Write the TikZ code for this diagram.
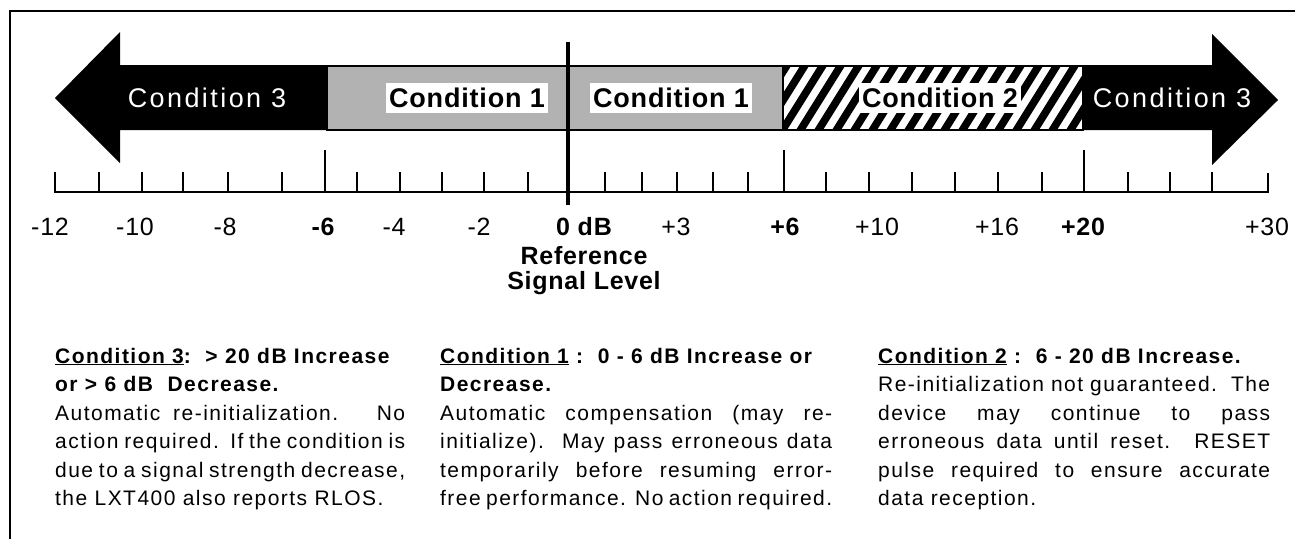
\documentclass[tikz,border=0pt]{standalone}
\usepackage{fontspec}
\setmainfont{Liberation Sans}
\begin{document}
\begin{tikzpicture}[x=1pt,y=-1pt,
  frame/.style={line width=2.5pt},
  bigarrow/.style={fill=black},
  stip/.style={fill=black!30},
  barlbl/.style={font=\fontsize{27}{30}\selectfont\bfseries\addfontfeature{LetterSpace=3}, fill=white, inner xsep=3pt, inner ysep=5pt},
  arrlbl/.style={font=\fontsize{27}{30}\selectfont\addfontfeature{LetterSpace=9}, text=white, inner sep=0pt},
  tick/.style={line width=2pt},
  ruler/.style={line width=2.5pt},
  num/.style={font=\fontsize{25}{28}\selectfont\addfontfeature{LetterSpace=3}, anchor=base, inner sep=0pt},
  bnum/.style={num, font=\fontsize{25}{28}\selectfont\bfseries\addfontfeature{LetterSpace=3}},
  blk/.style={anchor=base west, inner sep=0pt, font=\fontsize{21}{28.5}\selectfont\addfontfeature{LetterSpace=7}},
]
\useasboundingbox (0,0) rectangle (1295,539);
% frame
\draw[frame] (10,539) -- (10,11) -- (1295,11);

% left big arrow (Condition 3)
\fill[bigarrow] (55,98) -- (120,32) -- (120,65) -- (327,65) -- (327,130) -- (120,130) -- (120,163) -- cycle;
% right big arrow (Condition 3)
\fill[bigarrow] (1083,65) -- (1212,65) -- (1212,34) -- (1278,100) -- (1212,165) -- (1212,130) -- (1083,130) -- cycle;
% stippled part
\fill[stip] (327,66) rectangle (783,130);
% hatched part
\begin{scope}
  \clip (783,66) rectangle (1083,130);
  \foreach \i in {0,...,20} \fill ({742+\i*18},130) -- ++(9,0) -- ++(40,-64) -- ++(-9,0) -- cycle;
\end{scope}
\draw[line width=2pt] (327,66) rectangle (1083,130);
\draw[line width=2pt] (783,66) -- (783,130);

% bar labels
\node[arrlbl] (c3l) at (207,98) {Condition 3};
\node[barlbl] (c1l) at (467,98) {Condition 1};
\node[barlbl] (c1r) at (671,98) {Condition 1};
\node[barlbl] (c2) at (940,98) {Condition 2};
\node[arrlbl] (c3r) at (1172,98) {Condition 3};

% ruler
\draw[ruler] (55,172) -- (55,192) -- (1268,192) -- (1268,173);
\foreach \x in {99,142,183,228,282,357,400,442,484,528,605,642,677,713,748,826,869,912,955,998,1042,1128,1170,1212}
  \draw[tick] (\x,192) -- (\x,172);
\foreach \x in {325,784,1084}
  \draw[tick] (\x,192) -- (\x,150);
% reference line
\draw[line width=4pt] (568,42) -- (568,205);

% numbers
\node[num] (n1) at (50,235) {-12};
\node[num] (n2) at (135,235) {-10};
\node[num] (n3) at (225,235) {-8};
\node[bnum] (n4) at (323,235) {-6};
\node[num] (n5) at (394,235) {-4};
\node[num] (n6) at (479,235) {-2};
\node[bnum] (n7) at (584,235) {0 dB};
\node[num] (n8) at (676,235) {+3};
\node[bnum] (n9) at (785,235) {+6};
\node[num] (n10) at (877,235) {+10};
\node[num] (n11) at (997,235) {+16};
\node[bnum] (n12) at (1083,235) {+20};
\node[num] (n13) at (1267,235) {+30};
\node[bnum] (ref1) at (584,264) {Reference};
\node[bnum] (ref2) at (584,289) {Signal Level};

% text blocks
\node[blk] (t3) at (55,363) {\parbox[t]{350pt}{%
\textbf{\underline{Condition 3}:\ \ > 20 dB Increase}\\
\textbf{or > 6 dB\ \ Decrease.}\\
\makebox[\linewidth][s]{Automatic re-initialization.\ \ \ No}\\
\makebox[\linewidth][s]{action required.\ \ If the condition is}\\
\makebox[\linewidth][s]{due to a signal strength decrease,}\\
the LXT400 also reports RLOS.}};
\node[blk] (t1) at (440,363) {\parbox[t]{392pt}{%
\textbf{\underline{Condition 1} :\ \ 0 - 6 dB Increase or}\\
\textbf{Decrease.}\\
\makebox[\linewidth][s]{Automatic compensation (may re-}\\
\makebox[\linewidth][s]{initialize).\ \ May pass erroneous data}\\
\makebox[\linewidth][s]{temporarily before resuming error-}\\
\makebox[\linewidth][s]{free performance. No action required.}}};
\node[blk] (t2) at (878,363) {\parbox[t]{392pt}{%
\textbf{\underline{Condition 2} :\ \ 6 - 20 dB Increase.}\\
\makebox[\linewidth][s]{Re-initialization not guaranteed.\ \ The}\\
\makebox[\linewidth][s]{device may continue to pass}\\
\makebox[\linewidth][s]{erroneous data until reset.\ \ RESET}\\
\makebox[\linewidth][s]{pulse required to ensure accurate}\\
data reception.}};
\end{tikzpicture}
\end{document}
